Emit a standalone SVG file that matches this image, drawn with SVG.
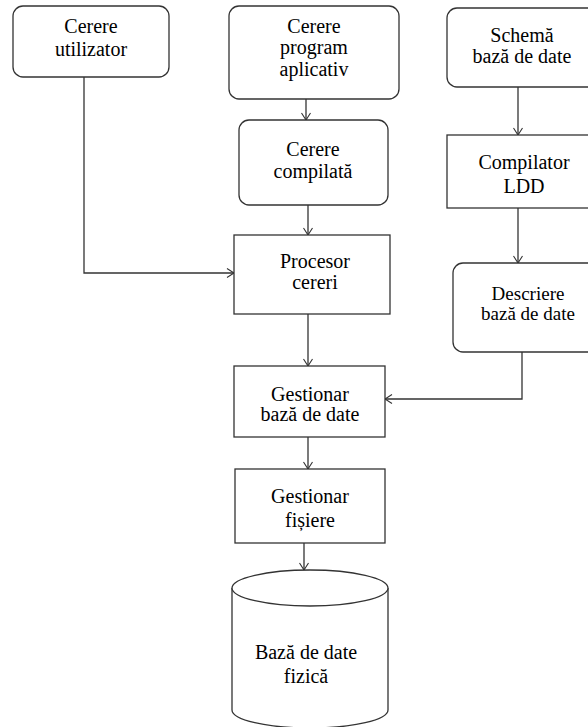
<svg xmlns="http://www.w3.org/2000/svg" width="588" height="727" viewBox="0 0 588 727">
<style>
.box{fill:#fff;stroke:#333;stroke-width:1.3}
.t{font-family:"Liberation Serif","Times New Roman",serif;font-size:20px;fill:#000;text-anchor:middle}
.s{font-size:19px}
.c{fill:none;stroke:#333;stroke-width:1.3}
</style>
<defs>
<marker id="a" markerWidth="12" markerHeight="12" refX="10" refY="6" orient="auto" markerUnits="userSpaceOnUse">
<path d="M3,1.5 L10,6 L3,10.5" fill="none" stroke="#333" stroke-width="1.1"/>
</marker>
</defs>
<rect width="588" height="727" fill="#fff"/>
<g id="connectors">
<path class="c" d="M84,77 V273 H234" marker-end="url(#a)"/>
<path class="c" d="M306,99 V120" marker-end="url(#a)"/>
<path class="c" d="M308,205 V235" marker-end="url(#a)"/>
<path class="c" d="M308,314 V366" marker-end="url(#a)"/>
<path class="c" d="M518,87 V135" marker-end="url(#a)"/>
<path class="c" d="M518,208 V263" marker-end="url(#a)"/>
<path class="c" d="M522,352 V399 H385" marker-end="url(#a)"/>
<path class="c" d="M308,437 V469" marker-end="url(#a)"/>
<path class="c" d="M304,543 V570" marker-end="url(#a)"/>
</g>
<g id="cerere-utilizator">
<rect class="box" x="13" y="6" width="156" height="71" rx="10"/>
<text class="t" x="91" y="33">Cerere</text>
<text class="t" x="91" y="56">utilizator</text>
</g>
<g id="cerere-program">
<rect class="box" x="229" y="6" width="170" height="93" rx="10"/>
<text class="t" x="314" y="33">Cerere</text>
<text class="t" x="314" y="54">program</text>
<text class="t" x="314" y="76">aplicativ</text>
</g>
<g id="cerere-compilata">
<rect class="box" x="239" y="120" width="149" height="85" rx="10"/>
<text class="t" x="313" y="156">Cerere</text>
<text class="t" x="313" y="178">compilată</text>
</g>
<g id="schema">
<rect class="box" x="447" y="8" width="155" height="79" rx="10"/>
<text class="t" x="522" y="42">Schemă</text>
<text class="t" x="522" y="63">bază de date</text>
</g>
<g id="compilator">
<rect class="box" x="447" y="135" width="155" height="73"/>
<text class="t" x="524" y="169">Compilator</text>
<text class="t" x="524" y="193">LDD</text>
</g>
<g id="descriere">
<rect class="box" x="453" y="263" width="150" height="89" rx="10"/>
<text class="t s" x="528" y="300">Descriere</text>
<text class="t s" x="528" y="320">bază de date</text>
</g>
<g id="procesor">
<rect class="box" x="234" y="235" width="156" height="79"/>
<text class="t" x="315" y="268">Procesor</text>
<text class="t" x="315" y="289">cereri</text>
</g>
<g id="gestionar-bd">
<rect class="box" x="234" y="366" width="151" height="71"/>
<text class="t" x="310" y="401">Gestionar</text>
<text class="t" x="310" y="421">bază de date</text>
</g>
<g id="gestionar-fisiere">
<rect class="box" x="235" y="469" width="150" height="74"/>
<text class="t" x="310" y="503">Gestionar</text>
<text class="t" x="310" y="527">fișiere</text>
</g>
<g id="baza-fizica">
<path class="box" d="M232,588 V710 A78,18 0 0 0 388,710 V588"/>
<ellipse class="box" cx="310" cy="588" rx="78" ry="18"/>
<text class="t" x="306" y="659">Bază de date</text>
<text class="t" x="306" y="683">fizică</text>
</g>
</svg>
